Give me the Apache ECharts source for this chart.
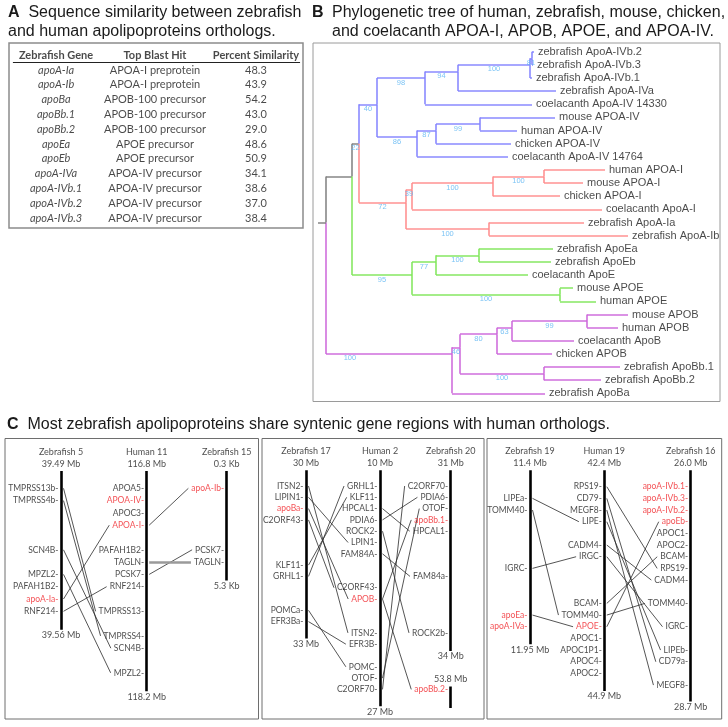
<!DOCTYPE html>
<html><head><meta charset="utf-8">
<script src="https://cdn.jsdelivr.net/npm/echarts@6/dist/echarts.min.js"></script>
<style>html,body{margin:0;padding:0;background:#fff}#c{width:728px;height:727px}</style>
</head><body><div id="c"></div>
<script>
// ================= Panel A data =================
const tableHeader = ['Zebrafish Gene', 'Top Blast Hit', 'Percent Similarity'];
const zfGenes = ['apoA-Ia','apoA-Ib','apoBa','apoBb.1','apoBb.2','apoEa','apoEb','apoA-IVa','apoA-IVb.1','apoA-IVb.2','apoA-IVb.3'];
const blastHits = ['APOA-I preprotein','APOA-I preprotein','APOB-100 precursor','APOB-100 precursor','APOB-100 precursor','APOE precursor','APOE precursor','APOA-IV precursor','APOA-IV precursor','APOA-IV precursor','APOA-IV precursor'];
const pctSimilarity = [48.3, 43.9, 54.2, 43.0, 29.0, 48.6, 50.9, 34.1, 38.6, 37.0, 38.4];

// ================= Panel B data (tree) =================
const leafNames = ['zebrafish ApoA-IVb.2','zebrafish ApoA-IVb.3','zebrafish ApoA-IVb.1','zebrafish ApoA-IVa','coelacanth ApoA-IV 14330',
  'mouse APOA-IV','human APOA-IV','chicken APOA-IV','coelacanth ApoA-IV 14764',
  'human APOA-I','mouse APOA-I','chicken APOA-I','coelacanth ApoA-I','zebrafish ApoA-Ia','zebrafish ApoA-Ib',
  'zebrafish ApoEa','zebrafish ApoEb','coelacanth ApoE','mouse APOE','human APOE',
  'mouse APOB','human APOB','coelacanth ApoB','chicken APOB','zebrafish ApoBb.1','zebrafish ApoBb.2','zebrafish ApoBa'];
const leafParents = ['nb23','nb23','nb','n94','n98','n99a','n99a','n87','n86','nHM','nHM','nA1','n39','nZA','nZA',
  'nZE','nZE','n77','nE','nE','n99b','n99b','n63','n80','nBb','nBb','nB'];
const leafDepths = [208,207,206,230,206,229,191,185,182,279,257,234,276,258,302,227,225,202,247,270,302,292,248,226,294,275,219];
const nodeIds     = ['root','X','Y','n40','n98','n94','nb','nb23','n86','n87','n99a','n72','n39','nA1','nHM','nZA','n95','n77','nZE','nE','nB','n46','n80','n63','n99b','nBb'];
const nodeParents = [null,'root','X','Y','n40','n98','n94','nb','n40','n86','n87','Y','n72','n39','nA1','n72','X','n95','n77','n95','root','nB','n46','n80','n63','n46'];
const nodeDepths  = [0,26,33,51,99,132,204,206,91,110,154,80,86,167,218,163,86,110,153,234,126,134,171,186,261,218];
const bootstrap   = ['','','22','40','98','94','100','81','86','87','99','72','39','100','100','100','95','77','100','100','100','46','80','63','99','100'];
const cladeRoots  = ['n40','n72','n95','nB'];

// ================= Panel C data (synteny) =================
// gene entries: [name, slot, highlighted]
const c1Chrom = ['Zebrafish 5','Human 11','Zebrafish 15'];
const c1Segs = [[[-1.4,11.5,'39.49 Mb','39.56 Mb']],[[-1.4,16.5,'116.8 Mb','118.2 Mb']],[[-1.4,7.5,'0.3 Kb','5.3 Kb']]];
const c1Genes = [
  [['TMPRSS13b',0],['TMPRSS4b',1],['SCN4B',5],['MPZL2',7],['PAFAH1B2',8],['apoA-Ia',9,1],['RNF214',10]],
  [['APOA5',0],['APOA-IV',1,1],['APOC3',2],['APOA-I',3,1],['PAFAH1B2',5],['TAGLN',6],['PCSK7',7],['RNF214',8],['TMPRSS13',10],['TMPRSS4',12],['SCN4B',13],['MPZL2',15]],
  [['apoA-Ib',0,1],['PCSK7',5],['TAGLN',6]]
];
const c1Links = [[0,'TMPRSS13b',1,'TMPRSS13'],[0,'TMPRSS4b',1,'TMPRSS4'],[0,'SCN4B',1,'SCN4B'],[0,'MPZL2',1,'MPZL2'],[0,'apoA-Ia',1,'APOA-I'],[0,'RNF214',1,'RNF214'],
  [1,'APOA-I',2,'apoA-Ib'],[1,'PCSK7',2,'PCSK7']];
const c1GrayLinks = [[1,'TAGLN',2,'TAGLN']];

const c2Chrom = ['Zebrafish 17','Human 2','Zebrafish 20'];
const c2Segs = [[[-1.4,13.5,'30 Mb','33 Mb']],[[-1.4,19.5,'10 Mb','27 Mb']],[[-1.4,14.6,'31 Mb','34 Mb'],[17.75,19.65,'53.8 Mb','']]];
const c2Genes = [
  [['ITSN2',0],['LIPIN1',1],['apoBa',2,1],['C2ORF43',3],['KLF11',7],['GRHL1',8],['POMCa',11],['EFR3Ba',12]],
  [['GRHL1',0],['KLF11',1],['HPCAL1',2],['PDIA6',3],['ROCK2',4],['LPIN1',5],['FAM84A',6],['C2ORF43',9],['APOB',10,1],['ITSN2',13],['EFR3B',14],['POMC',16],['OTOF',17],['C2ORF70',18]],
  [['C2ORF70',0],['PDIA6',1],['OTOF',2],['apoBb.1',3,1],['HPCAL1',4],['FAM84a',8],['ROCK2b',13],['apoBb.2',18,1]]
];
const c2Links = [[0,'ITSN2',1,'ITSN2'],[0,'LIPIN1',1,'LPIN1'],[0,'apoBa',1,'APOB'],[0,'C2ORF43',1,'C2ORF43'],[0,'KLF11',1,'KLF11'],[0,'GRHL1',1,'GRHL1'],[0,'POMCa',1,'POMC'],[0,'EFR3Ba',1,'EFR3B'],
  [1,'HPCAL1',2,'HPCAL1'],[1,'PDIA6',2,'PDIA6'],[1,'ROCK2',2,'ROCK2b'],[1,'FAM84A',2,'FAM84a'],[1,'APOB',2,'apoBb.1'],[1,'APOB',2,'apoBb.2'],[1,'OTOF',2,'OTOF'],[1,'C2ORF70',2,'C2ORF70']];
const c2GrayLinks = [];

const c3Chrom = ['Zebrafish 19','Human 19','Zebrafish 16'];
const c3Segs = [[[-1.4,13.5,'11.4 Mb','11.95 Mb']],[[-1.4,17.5,'42.4 Mb','44.9 Mb']],[[-1.4,18.4,'26.0 Mb','28.7 Mb']]];
const c3Genes = [
  [['LIPEa',1],['TOMM40',2],['IGRC',7],['apoEa',11,1],['apoA-IVa',12,1]],
  [['RPS19',0],['CD79',1],['MEGF8',2],['LIPE',3],['CADM4',5],['IRGC',6],['BCAM',10],['TOMM40',11],['APOE',12,1],['APOC1',13],['APOC1P1',14],['APOC4',15],['APOC2',16]],
  [['apoA-IVb.1',0,1],['apoA-IVb.3',1,1],['apoA-IVb.2',2,1],['apoEb',3,1],['APOC1',4],['APOC2',5],['BCAM',6],['RPS19',7],['CADM4',8],['TOMM40',10],['IGRC',12],['LIPEb',14],['CD79a',15],['MEGF8',17]]
];
const c3Links = [[0,'LIPEa',1,'LIPE'],[0,'TOMM40',1,'TOMM40'],[0,'IGRC',1,'IRGC'],[0,'apoEa',1,'APOE'],
  [1,'RPS19',2,'RPS19'],[1,'CD79',2,'CD79a'],[1,'MEGF8',2,'MEGF8'],[1,'LIPE',2,'LIPEb'],[1,'CADM4',2,'CADM4'],[1,'IRGC',2,'IGRC'],[1,'BCAM',2,'BCAM'],[1,'TOMM40',2,'TOMM40'],[1,'APOE',2,'apoEb']];
const c3GrayLinks = [];

// ================= Layout / style =================
const FT = '"Liberation Sans", Arial, Helvetica, sans-serif';
const FC = 'Lato, "Open Sans", sans-serif';
const TXT = '#1a1a1a';
const RED = '#f0262b';
const cladeColors = {n40:'#8383ff', n72:'#ff8b8b', n95:'#7fe65a', nB:'#cc66da', none:'#7f7f7f'};
const bootLabelFrac = {nB: 0.19};
const synLayout = [
  {left:5,   right:258.5, y0:488.3, sp:12.3,  colX:[61,146.7,226.7]},
  {left:262, right:484,   y0:486,   sp:11.3,  colX:[306,380,450.7]},
  {left:487, right:721.7, y0:486.7, sp:11.67, colX:[530,604.3,690.7]}
];
const synTop = 438.5, synBottom = 719;
const geneFont = 8.5, headFont = 9;

const measureCtx = document.createElement('canvas').getContext('2d');
function textW(t, size, fam) { measureCtx.font = size + 'px ' + fam; return measureCtx.measureText(t).width; }

const grids = [], xAxes = [], yAxes = [], series = [];
function addGrid(g, xr, yr, inverse) {
  grids.push(Object.assign({show:true, backgroundColor:'transparent', outerBoundsMode:'none', containLabel:false}, g));
  const gi = grids.length - 1;
  xAxes.push({type:'value', gridIndex:gi, min:xr[0], max:xr[1], show:false});
  yAxes.push({type:'value', gridIndex:gi, min:yr[0], max:yr[1], inverse:!!inverse, show:false});
  return gi;
}
const baseScatter = {type:'scatter', symbolSize:0, silent:true, animation:false, z:5};

// ---------- Panel A: table ----------
const tColX = [0.48, 1.49, 2.52];
const tY0 = 70, tSp = 14.8;
const gA = addGrid({left:9, top:43, width:294, height:185, borderColor:'#8c8c8c', borderWidth:1.5},
  [0,3], [(43-tY0)/tSp, (228-tY0)/tSp], true);
series.push(Object.assign({}, baseScatter, {xAxisIndex:gA, yAxisIndex:gA,
  data: tableHeader.map((h,i)=>({value:[tColX[i], -1], name:h})),
  label:{show:true, position:'inside', formatter:'{b}', fontFamily:FC, fontWeight:'bold', fontSize:11, color:TXT}}));
const colData = [zfGenes, blastHits, pctSimilarity.map(v=>v.toFixed(1))];
colData.forEach((col, ci) => {
  series.push(Object.assign({}, baseScatter, {xAxisIndex:gA, yAxisIndex:gA,
    data: col.map((t,r)=>({value:[tColX[ci], r], name:t})),
    label:{show:true, position:'inside', formatter:'{b}', fontFamily:FC, fontSize:11, color:TXT, fontStyle: ci===0?'italic':'normal'}}));
});
series.push({type:'lines', coordinateSystem:'cartesian2d', xAxisIndex:gA, yAxisIndex:gA, silent:true, animation:false,
  data:[{coords:[[0.04,-0.49],[2.97,-0.49]]}], lineStyle:{color:'#222', width:1, opacity:1}});

// ---------- Panel B: tree ----------
const tTop = 43, tBot = 401.5, leafY0 = 51.7, leafSp = 13.14;
const gB = addGrid({left:313, top:tTop, width:407, height:tBot-tTop, borderColor:'#9a9a9a', borderWidth:1},
  [-13, 394], [(tTop-leafY0)/leafSp, (tBot-leafY0)/leafSp], true);
const nodes = {};
nodeIds.forEach((id,i)=>{ nodes[id] = {id, parent:nodeParents[i], depth:nodeDepths[i], boot:bootstrap[i], leaves:[]}; });
const leaves = leafNames.map((n,i)=>({id:'L'+i, name:n, parent:leafParents[i], depth:leafDepths[i], leaves:[i]}));
leaves.forEach((l,i)=>{ let p = l.parent; while (p) { nodes[p].leaves.push(i); p = nodes[p].parent; } l.y = i; });
Object.values(nodes).forEach(n=>{ n.y = n.leaves.reduce((a,b)=>a+b,0)/n.leaves.length; });
function colorOf(item) {
  let id = item.id;
  if (cladeRoots.includes(id)) return cladeColors[id];
  let p = item.parent;
  while (p) { if (cladeRoots.includes(p)) return cladeColors[p]; p = nodes[p].parent; }
  return cladeColors.none;
}
const treeSegs = [];
const bootData = [];
const allChildren = Object.values(nodes).filter(n=>n.parent).concat(leaves);
allChildren.forEach(c=>{
  const p = nodes[c.parent];
  const col = colorOf(c);
  treeSegs.push({coords:[[p.depth, c.y],[c.depth, c.y]], lineStyle:{color:col}});
  treeSegs.push({coords:[[p.depth, p.y],[p.depth, c.y]], lineStyle:{color:col}});
  if (c.boot) {
    const f = bootLabelFrac[c.id] !== undefined ? bootLabelFrac[c.id] : 0.5;
    bootData.push({value:[p.depth + f*(c.depth-p.depth), c.y], name:c.boot});
  }
});
treeSegs.push({coords:[[-8, nodes.root.y],[0, nodes.root.y]], lineStyle:{color:cladeColors.none}});
series.push({type:'lines', coordinateSystem:'cartesian2d', xAxisIndex:gB, yAxisIndex:gB, silent:true, animation:false, z:2,
  data:treeSegs, lineStyle:{width:1.6, opacity:0.95}});
series.push(Object.assign({}, baseScatter, {xAxisIndex:gB, yAxisIndex:gB,
  data: leaves.map(l=>({value:[l.depth, l.y], name:l.name})),
  label:{show:true, position:'right', distance:4, formatter:'{b}', fontFamily:FT, fontSize:11, color:TXT}}));
series.push(Object.assign({}, baseScatter, {xAxisIndex:gB, yAxisIndex:gB,
  data: bootData,
  label:{show:true, position:'bottom', distance:0.5, formatter:'{b}', fontFamily:FT, fontSize:7.5, color:'#5ab4f2'}}));

// ---------- Panel C: synteny ----------
const synSets = [
  {chrom:c1Chrom, segs:c1Segs, genes:c1Genes, links:c1Links, gray:c1GrayLinks},
  {chrom:c2Chrom, segs:c2Segs, genes:c2Genes, links:c2Links, gray:c2GrayLinks},
  {chrom:c3Chrom, segs:c3Segs, genes:c3Genes, links:c3Links, gray:c3GrayLinks}
];
synSets.forEach((set, bi)=>{
  const L = synLayout[bi];
  const w = L.right - L.left;
  const g = addGrid({left:L.left, top:synTop, width:w, height:synBottom-synTop, borderColor:'#6e6e6e', borderWidth:1},
    [0, w], [(synTop-L.y0)/L.sp, (synBottom-L.y0)/L.sp], true);
  const cx = L.colX.map(x=>x-L.left);
  const bars = [], tops = [], bottoms = [];
  set.segs.forEach((segs, ci)=>{
    segs.forEach((s, si)=>{
      bars.push({coords:[[cx[ci], s[0]],[cx[ci], s[1]]]});
      tops.push({value:[cx[ci], s[0]], name: si===0 ? set.chrom[ci] + '\n' + s[2] : s[2]});
      if (s[3]) bottoms.push({value:[cx[ci], s[1]], name:s[3]});
    });
  });
  series.push({type:'lines', coordinateSystem:'cartesian2d', xAxisIndex:g, yAxisIndex:g, silent:true, animation:false, z:3,
    data:bars, lineStyle:{color:'#000', width:2.6, opacity:1}});
  series.push(Object.assign({}, baseScatter, {xAxisIndex:g, yAxisIndex:g, data:tops,
    label:{show:true, position:'top', distance:1.5, formatter:'{b}', fontFamily:FC, fontSize:headFont, lineHeight:11.7, color:TXT, align:'center'}}));
  series.push(Object.assign({}, baseScatter, {xAxisIndex:g, yAxisIndex:g, data:bottoms,
    label:{show:true, position:'bottom', distance:1, formatter:'{b}', fontFamily:FC, fontSize:headFont, color:TXT}}));
  const geneData = [];
  set.genes.forEach((list, ci)=>{
    list.forEach(gn=>{
      geneData.push({value:[cx[ci], gn[1]], name:gn[0] + '-', label:{color: gn[2] ? RED : TXT}});
    });
  });
  series.push(Object.assign({}, baseScatter, {xAxisIndex:g, yAxisIndex:g, data:geneData,
    label:{show:true, position:'left', distance:2.5, formatter:'{b}', fontFamily:FC, fontSize:geneFont}}));
  function linkCoords(lk) {
    const [ca, na, cb, nb] = lk;
    const ga = set.genes[ca].find(x=>x[0]===na);
    const gb = set.genes[cb].find(x=>x[0]===nb);
    const x1 = cx[ca] + 2.5;
    const x2 = cx[cb] - 2.5 - textW(nb + '-', geneFont, FC) - 3;
    return [[x1, ga[1]], [x2, gb[1]]];
  }
  series.push({type:'lines', coordinateSystem:'cartesian2d', xAxisIndex:g, yAxisIndex:g, silent:true, animation:false, z:2,
    data:set.links.map(lk=>({coords:linkCoords(lk)})), lineStyle:{color:'#2a2a2a', width:0.8, opacity:1}});
  if (set.gray.length) {
    series.push({type:'lines', coordinateSystem:'cartesian2d', xAxisIndex:g, yAxisIndex:g, silent:true, animation:false, z:2,
      data:set.gray.map(lk=>({coords:linkCoords(lk)})), lineStyle:{color:'#9a9a9a', width:2.5, opacity:1}});
  }
});

// ---------- Titles ----------
const titleStyle = {fontFamily:FT, fontSize:16, fontWeight:'normal', color:TXT, lineHeight:19,
  rich:{b:{fontFamily:FT, fontSize:16, fontWeight:'bold', color:TXT, lineHeight:19}}};
const titles = [
  {left:8, top:3, padding:0, text:'{b|A}  Sequence similarity between zebrafish\nand human apolipoproteins orthologs.', textStyle:titleStyle},
  {left:312, top:3, padding:0, text:'{b|B}', textStyle:titleStyle},
  {left:332, top:3, padding:0, text:'Phylogenetic tree of human, zebrafish, mouse, chicken,\nand coelacanth APOA-I, APOB, APOE, and APOA-IV.', textStyle:titleStyle},
  {left:7, top:415.2, padding:0, text:'{b|C}  Most zebrafish apolipoproteins share syntenic gene regions with human orthologs.', textStyle:titleStyle}
];

const chart = echarts.init(document.getElementById('c'));
chart.setOption({
  animation:false,
  backgroundColor:'#fff',
  title:titles,
  grid:grids, xAxis:xAxes, yAxis:yAxes,
  tooltip:{show:false},
  series:series
});
</script>
</body></html>
